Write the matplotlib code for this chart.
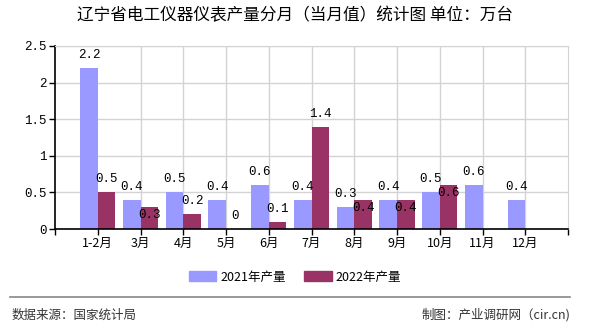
import numpy as np
import matplotlib
matplotlib.use("Agg")
import matplotlib.pyplot as plt
from matplotlib.patches import Patch
from matplotlib.lines import Line2D

plt.rcParams['font.family'] = ['Noto Sans CJK SC', 'DejaVu Sans']

# data
months = ['1-2月', '3月', '4月', '5月', '6月', '7月', '8月', '9月', '10月', '11月', '12月']
output_2021 = [2.2, 0.4, 0.5, 0.4, 0.6, 0.4, 0.3, 0.4, 0.5, 0.6, 0.4]
output_2022 = [0.5, 0.3, 0.2, 0, 0.1, 1.4, 0.4, 0.4, 0.6, None, None]
yticks = [0, 0.5, 1, 1.5, 2, 2.5]
ytick_labels = ['0', '0.5', '1', '1.5', '2', '2.5']

c21 = '#9999FF'
c22 = '#993366'
mono = ['Liberation Mono', 'DejaVu Sans Mono']

fig = plt.figure(figsize=(5.9, 3.3), dpi=100)
ax = fig.add_axes([55 / 590, 1 - 229 / 330, 513 / 590, 183 / 330])

x = np.arange(len(months))
w = 0.41

# grid
for yv in yticks[1:]:
    ax.axhline(yv, color='#D3D3D3', lw=1, zorder=0)
for i in range(1, len(months)):
    ax.axvline(i, color='#D3D3D3', lw=1, zorder=0)

for i in range(len(months)):
    ax.bar(x[i] - w / 2, output_2021[i], w, color=c21, zorder=2)
    ax.annotate(str(output_2021[i]), (x[i] - w / 2, output_2021[i]),
                xytext=(0, 13), textcoords='offset pixels', ha='center', va='center',
                family=mono, fontsize=9)
    v = output_2022[i]
    if v is None:
        continue
    ax.bar(x[i] + w / 2, v, w, color=c22, zorder=2)
    # move label into the bar when it would clash with the 2021 label
    off = -8 if abs(v - output_2021[i]) < 0.2 else 13
    lab = '0' if v == 0 else str(v)
    ax.annotate(lab, (x[i] + w / 2, v), xytext=(0, off), textcoords='offset pixels',
                ha='center', va='center', family=mono, fontsize=9, zorder=3)

ax.set_xlim(-1, len(months))
ax.set_ylim(0, 2.5)
ax.set_yticks(yticks)
ax.set_yticklabels(ytick_labels, family=mono, fontsize=9)
ax.set_xticks(list(x) + [-1, len(months)])
ax.set_xticklabels(months + ['', ''], fontsize=9)
ax.tick_params(axis='both', direction='out', length=4, width=1, color='black', pad=2)

for s in ['top', 'right']:
    ax.spines[s].set_color('#D3D3D3')
for s in ['left', 'bottom']:
    ax.spines[s].set_color('black')
    ax.spines[s].set_linewidth(1.2)

fig.text(0.5, 1 - 16 / 330, '辽宁省电工仪器仪表产量分月（当月值）统计图 单位：万台',
         ha='center', va='center', fontsize=12)

handles = [Patch(color=c21), Patch(color=c22)]
fig.legend(handles, ['2021年产量', '2022年产量'], loc='center', bbox_to_anchor=(0.5, 1 - 277 / 330),
           ncol=2, frameon=False, fontsize=9, handlelength=2.2, handleheight=0.8,
           handletextpad=0.3, columnspacing=1.5)

fig.add_artist(Line2D([10 / 590, 570 / 590], [1 - 297 / 330] * 2, color='#888888', lw=1.2))
fig.text(12 / 590, 1 - 315 / 330, '数据来源：国家统计局', ha='left', va='center', fontsize=9, color='#333333')
fig.text(570 / 590, 1 - 315 / 330, '制图：产业调研网（cir.cn)', ha='right', va='center', fontsize=9, color='#333333')

fig.savefig('out.png', dpi=100)
